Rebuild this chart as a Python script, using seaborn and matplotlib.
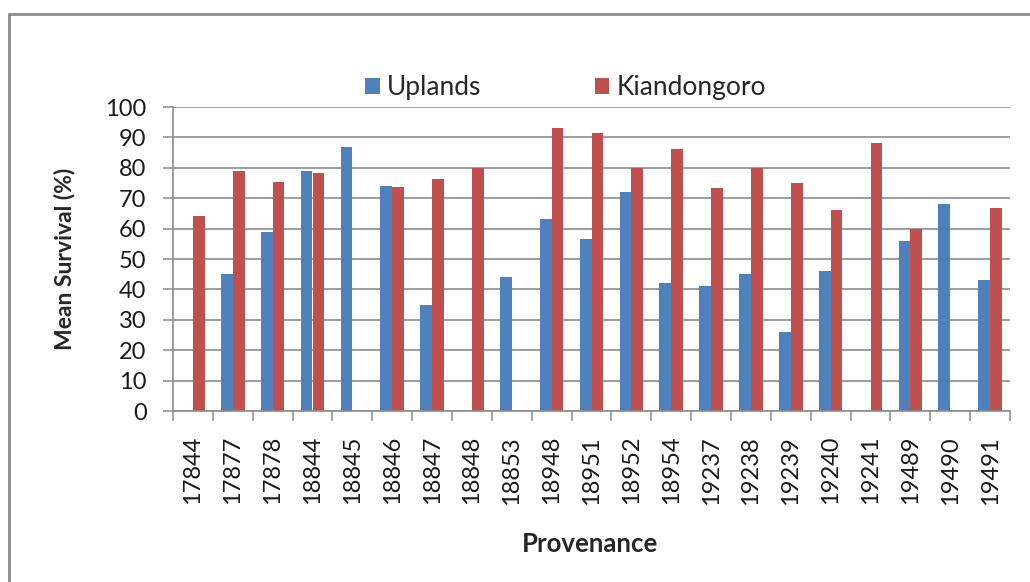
import matplotlib
matplotlib.use("Agg")
import matplotlib.pyplot as plt
from matplotlib.lines import Line2D
from matplotlib.patches import Patch
import numpy as np
import pandas as pd
import seaborn as sns

provenances = ["17844", "17877", "17878", "18844", "18845", "18846", "18847",
               "18848", "18853", "18948", "18951", "18952", "18954", "19237",
               "19238", "19239", "19240", "19241", "19489", "19490", "19491"]
uplands = [np.nan, 45, 59, 79, 86.8, 74, 35, np.nan, 44, 63, 56.7, 72, 42, 41,
           45, 26, 46, np.nan, 56, 68, 43]
kiandongoro = [64, 79, 75.3, 78.2, np.nan, 73.6, 76.2, 80, np.nan, 93, 91.4, 80,
               86.2, 73.2, 80, 75, 66, 88, 60, np.nan, 66.8]
sites = ["Uplands", "Kiandongoro"]
y_ticks = list(range(0, 101, 10))

df = pd.DataFrame({
    "Provenance": provenances * 2,
    "Site": [sites[0]] * len(provenances) + [sites[1]] * len(provenances),
    "Survival": uplands + kiandongoro,
})

sns.set_theme(style="white")
plt.rcParams["font.family"] = ["Lato", "DejaVu Sans"]

colors = {"Uplands": "#4F81BD", "Kiandongoro": "#C0504D"}
grid_col = "#8C8C8C"

fig = plt.figure(figsize=(10.30, 5.82), dpi=100)
ax = fig.add_axes([173 / 1030, 1 - 411 / 582, (1010 - 173) / 1030, (411 - 107) / 582])

sns.barplot(data=df, x="Provenance", y="Survival", hue="Site", order=provenances,
            hue_order=sites, palette=colors, width=0.59, dodge=True,
            saturation=1, edgecolor="none", ax=ax, legend=False)

ax.set_ylim(0, 100)
ax.set_xlim(-0.5, len(provenances) - 0.5)
ax.set_yticks(y_ticks)
ax.set_yticklabels([str(v) for v in y_ticks], fontsize=17, color="#1a1a1a")
ax.yaxis.grid(True, color=grid_col, linewidth=1.2)
ax.set_axisbelow(True)

ax.set_xticks(range(len(provenances)))
ax.set_xticklabels(provenances, rotation=90, fontsize=17, color="#1a1a1a")
ax.set_xticks(np.arange(-0.5, len(provenances), 1.0), minor=True)
ax.tick_params(axis="x", which="major", length=0, pad=18)
ax.tick_params(axis="x", which="minor", length=7, width=1.1, color=grid_col,
               direction="out", bottom=True)
ax.tick_params(axis="y", length=7, width=1.1, color=grid_col, direction="out",
               left=True, pad=12)

for side in ["top", "right"]:
    ax.spines[side].set_visible(False)
for side in ["left", "bottom"]:
    ax.spines[side].set_color(grid_col)
    ax.spines[side].set_linewidth(1.2)

ax.set_xlabel("Provenance", fontsize=18.5, fontweight="bold")
ax.set_ylabel("Mean Survival (%)", fontsize=16.5, fontweight="bold")
ax.xaxis.set_label_coords((590 - 173) / (1010 - 173), -(532 - 411) / (411 - 107))
ax.yaxis.set_label_coords((75 - 173) / (1010 - 173), 0.5)

handles = [Patch(facecolor=colors[s], edgecolor="none") for s in sites]
fig.legend(handles, sites, loc="center left", bbox_to_anchor=(352 / 1030, 1 - 88 / 582),
           ncol=2, frameon=False, fontsize=19, handlelength=0.55, handleheight=0.55,
           handletextpad=0.27, columnspacing=4.3, borderpad=0)

# chart border
fig.add_artist(Line2D([9 / 1030, 9 / 1030], [0, 1 - 14 / 582], color="#8C8C8C",
                      linewidth=2.0, transform=fig.transFigure))
fig.add_artist(Line2D([9 / 1030, 1], [1 - 14 / 582, 1 - 14 / 582], color="#8C8C8C",
                      linewidth=2.0, transform=fig.transFigure))

fig.savefig("out.png", dpi=100)
